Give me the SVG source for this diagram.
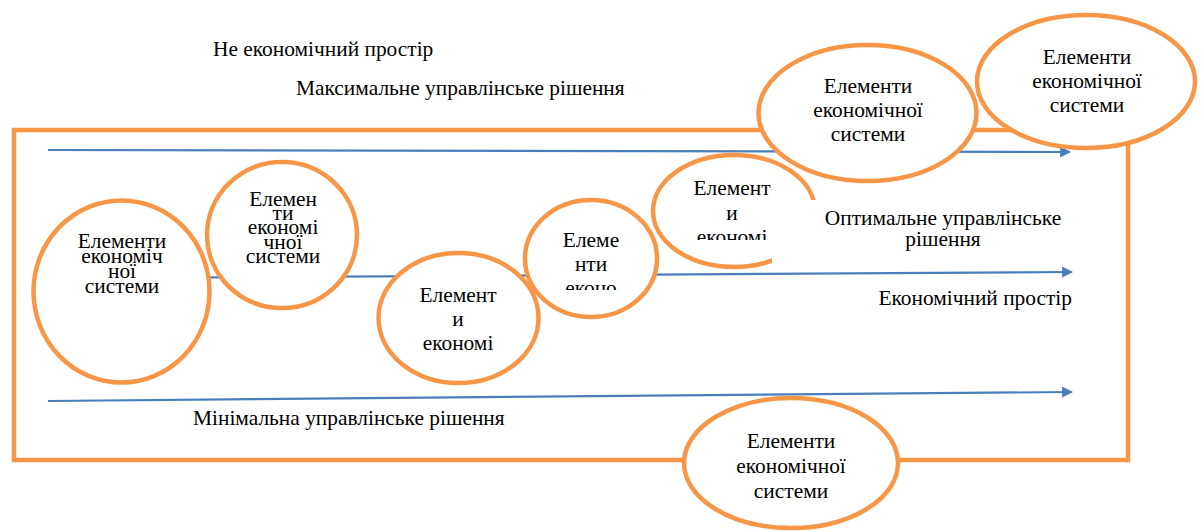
<svg xmlns="http://www.w3.org/2000/svg" width="1204" height="532" viewBox="0 0 1204 532">
<style>
text{font-family:'Liberation Serif',serif;font-size:21.4px;fill:#000}
.m{text-anchor:middle}
.el{fill:#fff;stroke:#F79646;stroke-width:4.5}
.fr{fill:none;stroke:#F79646;stroke-width:4.5}
.ar{fill:none;stroke:#4A7EBB;stroke-width:2.2}
</style>
<defs>
<marker id="ah" viewBox="0 0 10 10" refX="9" refY="5" markerWidth="7" markerHeight="5" markerUnits="strokeWidth" orient="auto">
<path d="M0,0 L10,5 L0,10 z" fill="#4A7EBB"/>
</marker>
<clipPath id="cD"><rect x="40" y="234" width="170" height="80"/></clipPath>
<clipPath id="cE"><rect x="220" y="189" width="130" height="80"/></clipPath>
<clipPath id="cG"><rect x="540" y="225" width="110" height="65"/></clipPath>
<clipPath id="cH"><rect x="660" y="175" width="150" height="65"/></clipPath>
</defs>
<g id="frame">
<path class="fr" d="M14,130 H1128 V460 H14 Z"/>
</g>
<g id="labels">
<text x="213" y="56">Не економічний простір</text>
<text x="296" y="95">Максимальне управлінське рішення</text>
<text x="193" y="425">Мінімальна управлінське рішення</text>
<text x="1072" y="305" text-anchor="end">Економічний простір</text>
</g>
<g id="connectors">
<path class="ar" d="M48,150 L1070,152" marker-end="url(#ah)"/>
<path class="ar" d="M120,278 L1072,272" marker-end="url(#ah)"/>
<path class="ar" d="M48,401 L1072,392" marker-end="url(#ah)"/>
</g>
<g id="node-d">
<ellipse class="el" cx="121.5" cy="291.5" rx="88" ry="91"/>
<g clip-path="url(#cD)">
<text class="m" x="122" y="248">Елементи</text>
<text class="m" x="122" y="263">економіч</text>
<text class="m" x="122" y="278">ної</text>
<text class="m" x="122" y="293">системи</text>
</g>
</g>
<g id="node-e">
<ellipse class="el" cx="282" cy="235" rx="75" ry="73"/>
<g clip-path="url(#cE)">
<text class="m" x="283" y="206">Елемен</text>
<text class="m" x="283" y="220">ти</text>
<text class="m" x="283" y="234">економі</text>
<text class="m" x="283" y="249">чної</text>
<text class="m" x="283" y="263">системи</text>
</g>
</g>
<g id="node-f">
<ellipse class="el" cx="458.5" cy="318" rx="80" ry="65"/>
<text class="m" x="458" y="302">Елемент</text>
<text class="m" x="458" y="326">и</text>
<text class="m" x="458" y="350">економі</text>
</g>
<g id="node-g">
<ellipse class="el" cx="591" cy="258.5" rx="66" ry="58.5"/>
<g clip-path="url(#cG)">
<text class="m" x="591" y="247">Елеме</text>
<text class="m" x="591" y="271">нти</text>
<text class="m" x="591" y="295">еконо</text>
</g>
</g>
<g id="node-h">
<ellipse class="el" cx="734" cy="211" rx="81" ry="56"/>
<g clip-path="url(#cH)">
<text class="m" x="732" y="195">Елемент</text>
<text class="m" x="732" y="220">и</text>
<text class="m" x="732" y="244">економі</text>
</g>
</g>
<g id="optimal-label">
<rect x="772" y="200" width="310" height="64" fill="#fff"/>
<text class="m" x="943" y="225">Оптимальне управлінське</text>
<text class="m" x="943" y="246">рішення</text>
</g>
<g id="node-a">
<ellipse class="el" cx="867.5" cy="113" rx="109" ry="68"/>
<text class="m" x="868" y="93">Елементи</text>
<text class="m" x="868" y="117">економічної</text>
<text class="m" x="868" y="141">системи</text>
</g>
<g id="node-b">
<ellipse class="el" cx="1086" cy="81.5" rx="109" ry="66.5"/>
<text class="m" x="1087" y="64">Елементи</text>
<text class="m" x="1087" y="88">економічної</text>
<text class="m" x="1087" y="112">системи</text>
</g>
<g id="node-c">
<ellipse class="el" cx="791" cy="463" rx="107" ry="65"/>
<text class="m" x="791" y="448">Елементи</text>
<text class="m" x="791" y="473">економічної</text>
<text class="m" x="791" y="498">системи</text>
</g>
</svg>
